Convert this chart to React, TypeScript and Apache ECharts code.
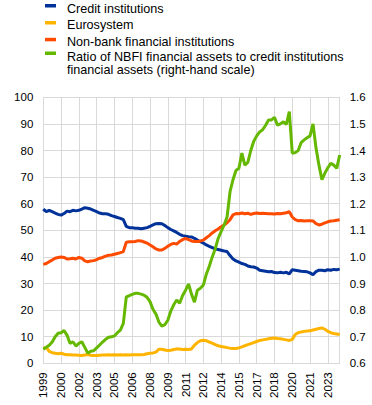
// final build: native rotated axis labels
import React, { useEffect, useRef } from "react";
import * as echarts from "echarts";

const categories: string[] = [];
for (let y = 1999; y <= 2024; y++) {
  for (let q = 1; q <= 4; q++) {
    if (y === 2024 && q > 1) break;
    categories.push(`${y}Q${q}`);
  }
}

const seriesNames = [
  "Credit institutions",
  "Eurosystem",
  "Non-bank financial institutions",
  "Ratio of NBFI financial assets to credit institutions financial assets (right-hand scale)",
];

const creditInstitutions = [
  58.0, 57.0, 57.5, 57.0, 56.5, 56.0, 55.7, 56.3, 57.2, 57.0,
  57.5, 57.3, 57.5, 58.0, 58.5, 58.3, 58.0, 57.5, 57.0, 56.5,
  56.2, 56.2, 56.0, 55.5, 55.2, 54.8, 54.5, 54.0, 51.5, 51.0,
  51.0, 50.8, 50.8, 50.6, 50.8, 51.0, 51.5, 52.0, 52.5, 52.6,
  52.5, 51.8, 51.0, 50.3, 49.8, 49.2, 48.5, 48.0, 47.8, 47.6,
  47.5, 47.0, 46.3, 45.7, 45.2, 44.5, 44.0, 43.5, 43.0, 42.8,
  42.5, 42.2, 42.0, 40.5, 39.2, 38.5, 38.0, 37.5, 37.2, 36.6,
  36.3, 36.2, 35.8, 35.0, 34.8, 34.6, 34.4, 34.5, 34.1, 34.0,
  34.2, 34.0, 34.2, 33.6, 35.2, 35.0, 34.8, 34.6, 34.5, 34.4,
  34.0, 33.3, 34.5, 35.0, 35.0, 34.8, 35.2, 35.0, 35.3, 35.2,
  35.4,
];

const eurosystem = [
  5.6, 6.0, 4.5, 4.0, 3.8, 3.6, 3.8, 3.4, 3.2, 3.2,
  3.1, 3.1, 3.0, 2.9, 3.1, 3.3, 3.0, 2.9, 2.9, 3.0,
  3.1, 3.1, 3.2, 3.1, 3.2, 3.1, 3.2, 3.1, 3.2, 3.1,
  3.2, 3.2, 3.2, 3.2, 3.3, 3.6, 3.8, 3.9, 4.2, 5.3,
  5.3, 5.0, 4.8, 4.9, 5.2, 5.4, 5.4, 5.2, 5.3, 5.2,
  5.4, 6.8, 7.8, 8.5, 8.7, 8.5, 8.0, 7.6, 7.0, 6.6,
  6.3, 6.1, 5.9, 5.7, 5.6, 5.6, 5.8, 6.2, 6.6, 7.0,
  7.4, 7.8, 8.2, 8.6, 8.8, 9.0, 9.2, 9.4, 9.5, 9.3,
  9.2, 9.0, 8.8, 8.6, 9.0, 10.8, 11.5, 11.8, 12.0, 12.1,
  12.2, 12.5, 12.8, 13.1, 13.3, 12.8, 12.0, 11.5, 11.2, 11.0,
  10.8,
];

const nonBank = [
  37.2, 37.5, 38.2, 38.8, 39.5, 39.8, 40.0, 39.8, 39.2, 39.3,
  39.5, 39.2, 39.8, 39.5, 38.5, 38.2, 38.5, 38.6, 39.0, 39.5,
  39.8, 40.3, 40.6, 40.7, 41.0, 41.3, 41.6, 42.0, 45.5, 45.7,
  45.7, 45.8, 46.1, 46.0, 45.6, 45.2, 44.5, 43.8, 43.0, 42.6,
  42.6, 43.2, 44.0, 44.7, 45.1, 44.8, 45.8, 46.5, 47.0, 46.5,
  46.0, 45.8, 45.8, 46.0, 46.3, 47.2, 48.0, 49.0, 49.8, 50.5,
  51.3, 52.0, 52.8, 54.0, 55.8, 56.3, 56.2, 56.5, 56.2, 56.4,
  56.0, 56.3, 56.5, 56.3, 56.4, 56.3, 56.2, 56.2, 56.1, 56.3,
  56.2, 56.4, 56.6, 57.0, 55.0, 54.0, 53.6, 53.7, 53.5, 53.6,
  53.6, 53.5, 52.5, 52.0, 52.3, 52.8, 53.2, 53.5, 53.6, 53.8,
  54.0,
];

const ratioNbfi = [
  0.653, 0.660, 0.668, 0.680, 0.700, 0.713, 0.715, 0.723, 0.706, 0.675,
  0.681, 0.665, 0.675, 0.681, 0.660, 0.638, 0.645, 0.647, 0.658, 0.669,
  0.680, 0.690, 0.698, 0.700, 0.703, 0.715, 0.725, 0.750, 0.850, 0.854,
  0.859, 0.863, 0.863, 0.860, 0.856, 0.848, 0.832, 0.803, 0.785, 0.755,
  0.740, 0.745, 0.762, 0.796, 0.820, 0.838, 0.826, 0.855, 0.875, 0.898,
  0.860, 0.830, 0.875, 0.882, 0.894, 0.935, 0.965, 1.000, 1.030, 1.070,
  1.095, 1.120, 1.150, 1.245, 1.290, 1.325, 1.333, 1.390, 1.345, 1.355,
  1.400, 1.435, 1.455, 1.470, 1.478, 1.495, 1.515, 1.515, 1.525, 1.495,
  1.500, 1.508, 1.498, 1.546, 1.390, 1.392, 1.400, 1.430, 1.440, 1.448,
  1.455, 1.500, 1.410, 1.345, 1.290, 1.315, 1.335, 1.352, 1.345, 1.333,
  1.383,
];

const legendLines = [
  ["Credit institutions"],
  ["Eurosystem"],
  ["Non-bank financial institutions"],
  ["Ratio of NBFI financial assets to credit institutions", "financial assets (right-hand scale)"],
];

const colors = ["#003299", "#ffb400", "#ff4b00", "#65b800"];
const FONT = "'Liberation Sans', Arial, Helvetica, sans-serif";
const GRID = "#d9d9d9";
const LABEL_STEP = 6;

export default function App() {
  const ref = useRef<HTMLDivElement>(null);

  useEffect(() => {
    if (!ref.current) return;
    const chart = echarts.init(ref.current, null, { renderer: "svg" });

    const iconTops = [4, 21, 37.8, 51.5];
    const lineYs = [[9.2], [25.3], [42.2], [56.5, 70.3]];
    const legendGraphic: any[] = [];
    legendLines.forEach((lines, i) => {
      legendGraphic.push({
        type: "rect",
        left: 45,
        top: iconTops[i],
        shape: { width: 11, height: 3.5 },
        style: { fill: colors[i] },
        silent: true,
      });
      lines.forEach((t, j) => {
        legendGraphic.push({
          type: "text",
          x: 67,
          y: lineYs[i][j],
          style: {
            text: t,
            fill: "#000",
            font: `12.6px ${FONT}`,
            verticalAlign: "middle",
            align: "left",
          },
          silent: true,
        });
      });
    });

    chart.setOption({
      animation: false,
      backgroundColor: "#ffffff",
      textStyle: { fontFamily: FONT },
      grid: { left: 43.3, right: 32.3, top: 97.3, height: 266, containLabel: false },
      graphic: legendGraphic,
      xAxis: {
        type: "category",
        boundaryGap: false,
        data: categories,
        axisLine: { show: true, lineStyle: { color: GRID, width: 1 } },
        axisTick: { show: false, interval: LABEL_STEP - 1 },
        axisLabel: {
          show: true,
          interval: LABEL_STEP - 1,
          rotate: 90,
          margin: 9,
          fontSize: 11.5,
          color: "#000",
          fontFamily: FONT,
          formatter: (v: string) => v.slice(0, 4),
        },
        splitLine: { show: true, interval: LABEL_STEP - 1, lineStyle: { color: GRID, width: 1 } },
      },
      yAxis: [
        {
          type: "value",
          min: 0,
          max: 100,
          interval: 10,
          axisLine: { show: true, lineStyle: { color: GRID } },
          axisTick: { show: false },
          axisLabel: { fontSize: 11.5, color: "#000", margin: 10, fontFamily: FONT },
          splitLine: { show: true, lineStyle: { color: GRID, width: 1 } },
        },
        {
          type: "value",
          min: 0.6,
          max: 1.6,
          interval: 0.1,
          position: "right",
          axisLine: { show: true, lineStyle: { color: GRID } },
          axisTick: { show: false },
          axisLabel: {
            fontSize: 11.5,
            color: "#000",
            margin: 10,
            fontFamily: FONT,
            formatter: (v: number) => v.toFixed(1),
          },
          splitLine: { show: false },
        },
      ],
      series: [
        { name: seriesNames[0], data: creditInstitutions, yAxisIndex: 0 },
        { name: seriesNames[1], data: eurosystem, yAxisIndex: 0 },
        { name: seriesNames[2], data: nonBank, yAxisIndex: 0 },
        { name: seriesNames[3], data: ratioNbfi, yAxisIndex: 1 },
      ].map((s, i) => ({
        ...s,
        type: "line",
        showSymbol: false,
        symbol: "none",
        lineStyle: { color: colors[i], width: 3 },
        itemStyle: { color: colors[i] },
        z: 2 + i,
      })),
    });

    return () => chart.dispose();
  }, []);

  return (
    <div
      ref={ref}
      style={{ position: "fixed", left: 0, top: 0, width: 372, height: 405, background: "#fff" }}
    />
  );
}
